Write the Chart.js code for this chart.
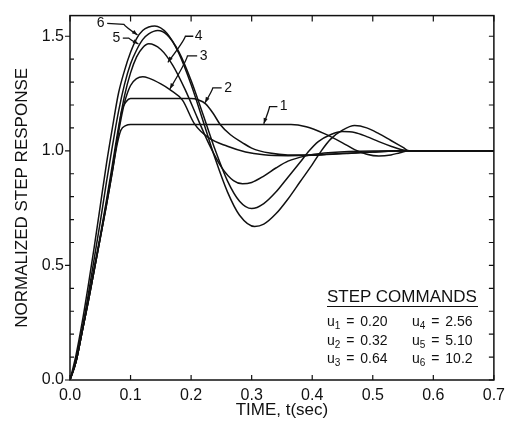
<!DOCTYPE html>
<html>
<head>
<meta charset="utf-8">
<script src="https://cdn.jsdelivr.net/npm/chart.js@4.4.0/dist/chart.umd.min.js"></script>
<style>
body { margin: 0; background: #fff; }
#wrap { position: relative; width: 511px; height: 424px; }
#cmds { position: absolute; left: 327px; top: 288px; font-family: "Liberation Sans", Arial, sans-serif; color: #111; }
#cmds .head { font-size: 17px; line-height: 18px; width: 151px; border-bottom: 1.5px solid #111; white-space: nowrap; }
#cmds .row { position: absolute; font-size: 14px; line-height: 16px; white-space: nowrap; word-spacing: 2px; }
#cmds sub { font-size: 10px; vertical-align: -3px; line-height: 0; }
</style>
</head>
<body>
<div id="wrap">
  <canvas id="chart" width="511" height="424"></canvas>
  <div id="cmds">
    <div class="head">STEP COMMANDS</div>
  </div>
</div>
<script>
// step response curves (time in sec, normalized response)
var t1 = [0, 0.01, 0.02, 0.03, 0.04, 0.05, 0.06, 0.07, 0.078, 0.084, 0.092, 0.10, 0.2, 0.3, 0.365, 0.39, 0.42, 0.45, 0.47, 0.49, 0.51, 0.53, 0.545, 0.56, 0.7];
var v1 = [0, 0.08, 0.21, 0.34, 0.48, 0.62, 0.76, 0.91, 1.03, 1.09, 1.11, 1.115, 1.115, 1.115, 1.115, 1.105, 1.075, 1.035, 1.005, 0.985, 0.977, 0.982, 0.992, 1.0, 1.0];

var t2 = [0, 0.01, 0.02, 0.03, 0.04, 0.05, 0.06, 0.07, 0.078, 0.085, 0.093, 0.10, 0.15, 0.20, 0.212, 0.224, 0.236, 0.248, 0.265, 0.285, 0.30, 0.33, 0.36, 0.40, 0.45, 0.50, 0.56, 0.7];
var v2 = [0, 0.08, 0.21, 0.34, 0.48, 0.62, 0.76, 0.91, 1.05, 1.17, 1.215, 1.228, 1.228, 1.228, 1.222, 1.205, 1.165, 1.115, 1.07, 1.035, 1.012, 0.99, 0.982, 0.982, 0.988, 0.995, 1.0, 1.0];

var t3 = [0, 0.01, 0.02, 0.03, 0.04, 0.05, 0.06, 0.07, 0.08, 0.09, 0.10, 0.11, 0.12, 0.13, 0.15, 0.165, 0.186, 0.205, 0.23, 0.26, 0.29, 0.32, 0.36, 0.40, 0.45, 0.50, 0.56, 0.7];
var v3 = [0, 0.08, 0.21, 0.34, 0.48, 0.62, 0.77, 0.92, 1.08, 1.21, 1.285, 1.315, 1.323, 1.317, 1.292, 1.267, 1.22, 1.12, 1.055, 1.02, 0.995, 0.983, 0.979, 0.981, 0.988, 0.995, 1.0, 1.0];

var t4 = [0, 0.01, 0.02, 0.03, 0.04, 0.05, 0.06, 0.07, 0.08, 0.09, 0.10, 0.11, 0.12, 0.13, 0.15, 0.17, 0.19, 0.21, 0.23, 0.25, 0.27, 0.285, 0.30, 0.32, 0.34, 0.36, 0.39, 0.42, 0.46, 0.56, 0.7];
var v4 = [0, 0.08, 0.21, 0.35, 0.49, 0.63, 0.78, 0.94, 1.10, 1.24, 1.34, 1.41, 1.45, 1.467, 1.442, 1.372, 1.268, 1.146, 1.027, 0.929, 0.87, 0.856, 0.862, 0.89, 0.925, 0.955, 0.978, 0.99, 0.997, 1.0, 1.0];

var t5 = [0, 0.01, 0.02, 0.03, 0.04, 0.05, 0.06, 0.07, 0.08, 0.09, 0.10, 0.11, 0.12, 0.13, 0.145, 0.16, 0.18, 0.20, 0.22, 0.24, 0.26, 0.28, 0.30, 0.32, 0.34, 0.36, 0.38, 0.395, 0.41, 0.43, 0.45, 0.47, 0.49, 0.51, 0.53, 0.545, 0.56, 0.7];
var v5 = [0, 0.09, 0.22, 0.37, 0.53, 0.69, 0.86, 1.02, 1.17, 1.29, 1.38, 1.44, 1.485, 1.51, 1.525, 1.507, 1.431, 1.307, 1.156, 1.002, 0.869, 0.78, 0.748, 0.77, 0.82, 0.885, 0.95, 1.0, 1.04, 1.07, 1.084, 1.08, 1.062, 1.04, 1.02, 1.007, 1.0, 1.0];

var t6 = [0, 0.01, 0.02, 0.03, 0.04, 0.05, 0.06, 0.07, 0.08, 0.09, 0.10, 0.11, 0.12, 0.13, 0.14, 0.16, 0.18, 0.20, 0.22, 0.24, 0.26, 0.28, 0.305, 0.32, 0.34, 0.36, 0.38, 0.40, 0.415, 0.43, 0.45, 0.47, 0.49, 0.51, 0.53, 0.55, 0.56, 0.7];
var v6 = [0, 0.11, 0.25, 0.41, 0.58, 0.76, 0.94, 1.10, 1.25, 1.35, 1.43, 1.49, 1.525, 1.54, 1.545, 1.513, 1.424, 1.289, 1.128, 0.964, 0.821, 0.719, 0.67, 0.68, 0.725, 0.79, 0.865, 0.94, 1.0, 1.05, 1.09, 1.11, 1.10, 1.075, 1.045, 1.015, 1.0, 1.0];

var curveNames = ['1', '2', '3', '4', '5', '6'];
var stepSubs = ['1', '2', '3', '4', '5', '6'];
var stepValues = ['0.20', '0.32', '0.64', '2.56', '5.10', '10.2'];

// curve number tags: text spot and leader (in data units)
var curveTags = [
    {text: '6', at: [0.0505, 1.556], path: [[0.0614, 1.556], [0.089, 1.552], [0.1115, 1.505]]},
    {text: '5', at: [0.0765, 1.492], path: [[0.0872, 1.492], [0.097, 1.492], [0.113, 1.466]]},
    {text: '4', at: [0.2125, 1.500], path: [[0.2036, 1.500], [0.1906, 1.500], [0.1616, 1.386]]},
    {text: '3', at: [0.2205, 1.414], path: [[0.2100, 1.414], [0.1940, 1.414], [0.1650, 1.270]]},
    {text: '2', at: [0.2610, 1.275], path: [[0.2504, 1.275], [0.2359, 1.275], [0.2230, 1.210]]},
    {text: '1', at: [0.3530, 1.193], path: [[0.3425, 1.193], [0.3296, 1.193], [0.3200, 1.118]]}
];

var FONT = '"Liberation Sans", Arial, sans-serif';

function toPoints(ts, vs) {
    return ts.map(function (x, i) { return {x: x, y: vs[i]}; });
}

var series = [[t1, v1], [t2, v2], [t3, v3], [t4, v4], [t5, v5], [t6, v6]];
var datasets = series.map(function (s, i) {
    return {
        label: curveNames[i],
        data: toPoints(s[0], s[1]),
        borderColor: '#111',
        borderWidth: 1.5,
        pointRadius: 0,
        fill: false,
        cubicInterpolationMode: 'monotone'
    };
});

// step command list
var box = document.getElementById('cmds');
stepValues.forEach(function (val, i) {
    var d = document.createElement('div');
    d.className = 'row';
    d.style.left = (i < 3 ? 0 : 85) + 'px';
    d.style.top = (25 + (i % 3) * 18.5) + 'px';
    d.innerHTML = 'u<sub>' + stepSubs[i] + '</sub> = ' + val;
    box.appendChild(d);
});

function isStep(v, k) {
    return Math.abs(v * k - Math.round(v * k)) < 1e-6;
}

var framePlugin = {
    id: 'frame',
    afterDraw: function (chart) {
        var ctx = chart.ctx, a = chart.chartArea;
        var xs = chart.scales.x, ys = chart.scales.y;
        ctx.save();
        ctx.strokeStyle = '#111';
        ctx.lineWidth = 1.5;
        ctx.strokeRect(a.left, a.top, a.right - a.left, a.bottom - a.top);

        ctx.lineWidth = 1.2;
        ctx.beginPath();
        xs.ticks.forEach(function (tk) {
            if (!isStep(tk.value, 10)) return;
            var px = xs.getPixelForValue(tk.value);
            ctx.moveTo(px, a.bottom); ctx.lineTo(px, a.bottom - 5);
            ctx.moveTo(px, a.top); ctx.lineTo(px, a.top + 6);
        });
        ys.ticks.forEach(function (tk) {
            if (!isStep(tk.value, 10)) return;
            var py = ys.getPixelForValue(tk.value);
            if (isStep(tk.value, 2)) {
                ctx.moveTo(a.left - 5, py); ctx.lineTo(a.left, py);
            } else {
                ctx.moveTo(a.left, py); ctx.lineTo(a.left + 4, py);
            }
            ctx.moveTo(a.right, py); ctx.lineTo(a.right - 5, py);
        });
        ctx.stroke();

        // curve number tags
        ctx.fillStyle = '#111';
        ctx.font = '14px ' + FONT;
        ctx.textAlign = 'center';
        ctx.textBaseline = 'middle';
        curveTags.forEach(function (tag) {
            ctx.fillText(tag.text, xs.getPixelForValue(tag.at[0]), ys.getPixelForValue(tag.at[1]));
            var pts = tag.path.map(function (p) {
                return [xs.getPixelForValue(p[0]), ys.getPixelForValue(p[1])];
            });
            ctx.lineWidth = 1.3;
            ctx.beginPath();
            ctx.moveTo(pts[0][0], pts[0][1]);
            ctx.lineTo(pts[1][0], pts[1][1]);
            ctx.quadraticCurveTo(pts[1][0] - (pts[1][0] - pts[2][0]) * 0.1, pts[1][1] + (pts[2][1] - pts[1][1]) * 0.2, pts[2][0], pts[2][1]);
            ctx.stroke();
            var tip = pts[2], prev = pts[1];
            var ang = Math.atan2(tip[1] - prev[1], tip[0] - prev[0]);
            ctx.beginPath();
            ctx.moveTo(tip[0], tip[1]);
            ctx.lineTo(tip[0] - 6 * Math.cos(ang - 0.35), tip[1] - 6 * Math.sin(ang - 0.35));
            ctx.lineTo(tip[0] - 6 * Math.cos(ang + 0.35), tip[1] - 6 * Math.sin(ang + 0.35));
            ctx.closePath();
            ctx.fill();
        });
        ctx.restore();
    }
};

new Chart(document.getElementById('chart'), {
    type: 'line',
    data: {datasets: datasets},
    options: {
        responsive: false,
        animation: false,
        layout: {padding: {left: 0, right: 8, top: 12, bottom: 0}},
        plugins: {legend: {display: false}, tooltip: {enabled: false}},
        scales: {
            x: {
                type: 'linear',
                min: 0,
                max: 0.7,
                grid: {display: false, drawTicks: false},
                border: {display: false},
                ticks: {
                    stepSize: 0.1,
                    padding: 6,
                    autoSkip: false,
                    maxRotation: 0,
                    color: '#111',
                    font: {family: FONT, size: 16},
                    callback: function (v) { return Number(v).toFixed(1); }
                },
                title: {
                    display: true,
                    text: 'TIME, t(sec)',
                    color: '#111',
                    font: {family: FONT, size: 17},
                    padding: {top: 0, bottom: 3}
                },
                afterFit: function (scale) { scale.height = 44; }
            },
            y: {
                min: 0,
                max: 1.59,
                grid: {display: false, drawTicks: false},
                border: {display: false},
                ticks: {
                    stepSize: 0.1,
                    padding: 6,
                    autoSkip: false,
                    color: '#111',
                    font: {family: FONT, size: 16},
                    callback: function (v) { return isStep(v, 2) ? Number(v).toFixed(1) : ''; }
                },
                title: {
                    display: true,
                    text: 'NORMALIZED STEP RESPONSE',
                    color: '#111',
                    font: {family: FONT, size: 17},
                    padding: {top: 12, bottom: 0}
                },
                afterFit: function (scale) { scale.width = 70; }
            }
        }
    },
    plugins: [framePlugin]
});
</script>
</body>
</html>
